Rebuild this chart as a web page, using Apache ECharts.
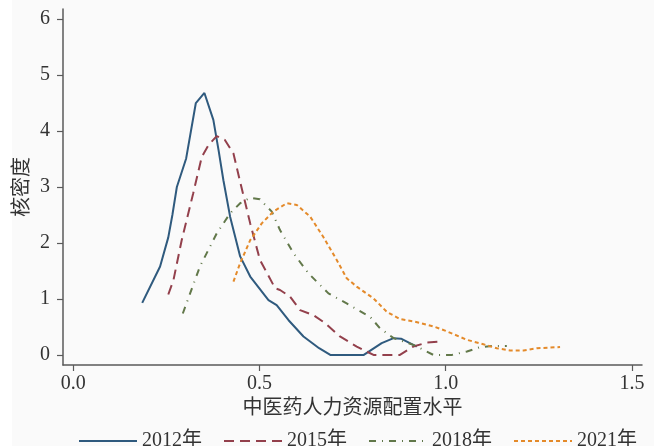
<!DOCTYPE html>
<html>
<head>
<meta charset="utf-8">
<script src="https://cdn.jsdelivr.net/npm/echarts@6/dist/echarts.min.js"></script>
<style>
  html, body { margin: 0; padding: 0; background: #ffffff; }
  #chart { width: 654px; height: 446px; }
</style>
</head>
<body>
<div id="chart"></div>
<script>
// Kernel density estimates of TCM human-resource allocation level, by year
const seriesNames = ['2012年', '2015年', '2018年', '2021年'];

const density2012 = [
  [0.185, 0.93], [0.233, 1.58], [0.255, 2.10], [0.266, 2.50], [0.278, 3.00],
  [0.303, 3.51], [0.329, 4.50], [0.352, 4.68], [0.376, 4.20], [0.390, 3.66],
  [0.403, 3.12], [0.421, 2.47], [0.448, 1.76], [0.475, 1.40], [0.524, 0.98],
  [0.546, 0.89], [0.578, 0.62], [0.618, 0.33], [0.660, 0.12], [0.690, 0.00],
  [0.780, 0.00], [0.828, 0.21], [0.860, 0.30], [0.880, 0.29], [0.922, 0.15]
];

const density2015 = [
  [0.255, 1.08], [0.269, 1.34], [0.291, 2.05], [0.322, 2.89], [0.345, 3.54],
  [0.363, 3.75], [0.385, 3.91], [0.407, 3.84], [0.430, 3.60], [0.448, 3.09],
  [0.475, 2.35], [0.501, 1.70], [0.542, 1.19], [0.555, 1.16], [0.582, 1.04],
  [0.609, 0.80], [0.645, 0.71], [0.676, 0.57], [0.716, 0.33], [0.761, 0.15],
  [0.806, 0.00], [0.877, 0.00], [0.913, 0.15], [0.949, 0.22], [0.985, 0.24]
];

const density2018 = [
  [0.294, 0.74], [0.340, 1.58], [0.385, 2.17], [0.421, 2.53], [0.448, 2.71],
  [0.475, 2.81], [0.501, 2.78], [0.533, 2.56], [0.555, 2.23], [0.591, 1.82],
  [0.631, 1.46], [0.685, 1.10], [0.734, 0.92], [0.797, 0.68], [0.823, 0.48],
  [0.860, 0.30], [0.913, 0.18], [0.967, 0.00], [1.016, 0.00], [1.057, 0.06],
  [1.092, 0.14], [1.128, 0.16], [1.164, 0.16]
];

const density2021 = [
  [0.430, 1.31], [0.448, 1.64], [0.475, 2.05], [0.506, 2.35], [0.537, 2.56],
  [0.573, 2.71], [0.600, 2.68], [0.636, 2.47], [0.671, 2.11], [0.707, 1.70],
  [0.734, 1.37], [0.761, 1.22], [0.806, 1.01], [0.842, 0.77], [0.877, 0.64],
  [0.913, 0.60], [0.967, 0.51], [1.000, 0.43], [1.057, 0.27], [1.101, 0.19],
  [1.137, 0.12], [1.173, 0.08], [1.209, 0.08], [1.245, 0.12], [1.307, 0.14]
];

const xTicks = [0, 0.5, 1.0, 1.5];
const yTicks = [0, 1, 2, 3, 4, 5, 6];

const xTitle = '中医药人力资源配置水平';
const yTitle = '核密度';

const FONT = '"Liberation Serif", "Noto Sans CJK SC", serif';
const AXIS_COLOR = '#5a5a5a';
const TEXT_COLOR = '#333333';

const styles = [
  { color: '#2f5a7e', type: 'solid' },
  { color: '#93404c', type: [10, 6] },
  { color: '#62784a', type: [7, 6, 1, 6] },
  { color: '#e48a2a', type: [4, 3] }
];
const datasets = [density2012, density2015, density2018, density2021];

const chart = echarts.init(document.getElementById('chart'), null, { renderer: 'canvas' });

chart.setOption({
  backgroundColor: 'transparent',
  animation: false,
  graphic: [{
    type: 'rect', z: -10, silent: true,
    shape: { x: 12, y: 0, width: 642, height: 446 },
    style: { fill: '#fafafa' }
  }],
  grid: { left: 63, right: 12, top: 9, bottom: 81, containLabel: false },
  legend: {
    left: 73, top: 426,
    itemWidth: 58, itemHeight: 14, itemGap: 21,
    // legend keys show only the line pattern, no marker
    itemStyle: { opacity: 0 },
    textStyle: { fontFamily: FONT, fontSize: 20, color: TEXT_COLOR, padding: [0, 0, 0, 0] },
    data: seriesNames
  },
  xAxis: {
    type: 'value', min: -0.0277, max: 1.527,
    name: xTitle, nameLocation: 'middle', nameGap: 34, nameMoveOverlap: false,
    nameTextStyle: { fontFamily: FONT, fontSize: 20, color: TEXT_COLOR },
    axisLine: { show: true, onZero: false, lineStyle: { color: AXIS_COLOR, width: 1.5 } },
    axisTick: { show: true, length: 6, customValues: xTicks, lineStyle: { color: AXIS_COLOR, width: 1.2 } },
    axisLabel: {
      customValues: xTicks, margin: 9,
      fontFamily: FONT, fontSize: 20, color: TEXT_COLOR,
      formatter: v => Number(v).toFixed(1)
    },
    splitLine: { show: false }
  },
  yAxis: {
    type: 'value', min: -0.18, max: 6.18,
    name: yTitle, nameLocation: 'middle', nameGap: 30, nameMoveOverlap: false,
    nameTextStyle: { fontFamily: FONT, fontSize: 20, color: TEXT_COLOR },
    axisLine: { show: true, onZero: false, lineStyle: { color: AXIS_COLOR, width: 1.5 } },
    axisTick: { show: true, length: 6, customValues: yTicks, lineStyle: { color: AXIS_COLOR, width: 1.2 } },
    axisLabel: {
      customValues: yTicks, margin: 13,
      fontFamily: FONT, fontSize: 20, color: TEXT_COLOR
    },
    splitLine: { show: false }
  },
  series: datasets.map((d, i) => ({
    name: seriesNames[i],
    type: 'line',
    data: d,
    symbol: 'none',
    smooth: false,
    color: styles[i].color,
    lineStyle: { color: styles[i].color, width: 2, type: styles[i].type }
  }))
});
</script>
</body>
</html>
